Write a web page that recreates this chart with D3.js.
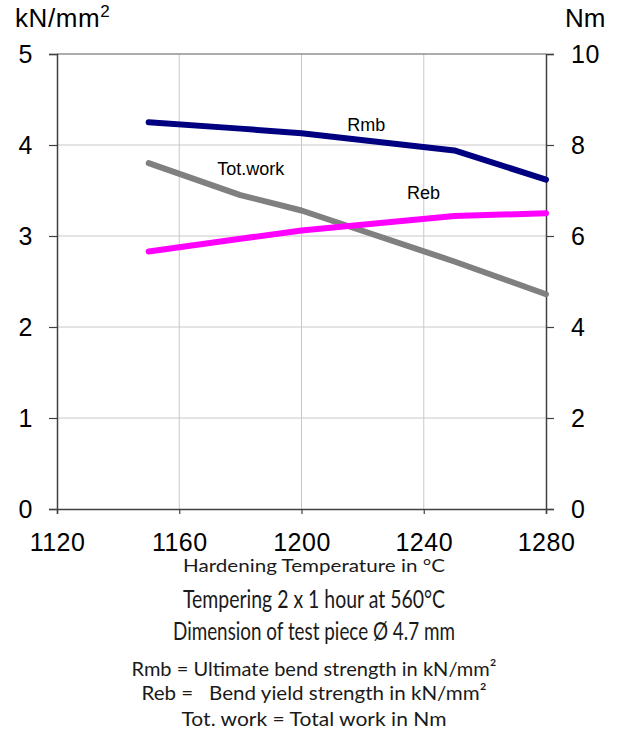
<!DOCTYPE html>
<html>
<head>
<meta charset="utf-8">
<script src="https://cdn.jsdelivr.net/npm/d3@7"></script>
<style>
  body { margin: 0; background: #fff; }
  svg { display: block; }
</style>
</head>
<body>
<div id="chart"></div>
<script>
// chart size
const width = 626
const height = 738

// data
const temps = [1150, 1180, 1200, 1250, 1280]
const rmb = [4.25, 4.18, 4.13, 3.94, 3.62]      // kN/mm2, left axis
const reb = [2.83, 2.97, 3.06, 3.22, 3.25]      // kN/mm2, left axis
const totWork = [7.60, 6.90, 6.56, 5.44, 4.72]  // Nm, right axis

const xTicks = [1120, 1160, 1200, 1240, 1280]
const yLeftTicks = [0, 1, 2, 3, 4, 5]
const yRightTicks = [0, 2, 4, 6, 8, 10]

const notes = [
    "Hardening Temperature in °C",
    "Tempering 2 x 1 hour at 560°C",
    "Dimension of test piece Ø 4.7 mm",
    "Rmb = Ultimate bend strength in kN/mm²",
    "Reb =   Bend yield strength in kN/mm²",
    "Tot. work = Total work in Nm"
]

const svg = d3.select("#chart")
    .append("svg")
    .attr("width", width)
    .attr("height", height)

const plotLeft = 57, plotRight = 546, plotTop = 54, plotBottom = 509

const x = d3.scaleLinear().domain([1120, 1280]).range([plotLeft, plotRight])
const yL = d3.scaleLinear().domain([0, 5]).range([plotBottom, plotTop])
const yR = d3.scaleLinear().domain([0, 10]).range([plotBottom, plotTop])

// gridlines
svg.append("g")
    .selectAll("line")
    .data(xTicks.slice(1, -1))
    .join("line")
    .attr("x1", d => x(d)).attr("x2", d => x(d))
    .attr("y1", plotTop).attr("y2", plotBottom)
    .attr("stroke", "#c8c8c8").attr("stroke-width", 1)

svg.append("g")
    .selectAll("line")
    .data(yLeftTicks.slice(1))
    .join("line")
    .attr("x1", plotLeft).attr("x2", plotRight)
    .attr("y1", d => yL(d)).attr("y2", d => yL(d))
    .attr("stroke", d => d == 5 ? "#909090" : "#c8c8c8").attr("stroke-width", d => d == 5 ? 1.5 : 1)

// axes
const axisFont = "Liberation Sans, Arial, sans-serif"

function styleAxis(g) {
    g.select(".domain").attr("stroke", "#404040").attr("stroke-width", 1.5)
    g.selectAll(".tick line").attr("stroke", "#404040").attr("stroke-width", 1.2)
    g.selectAll("text")
        .attr("font-family", axisFont)
        .attr("font-size", 25)
        .attr("letter-spacing", 0.5)
        .attr("fill", "#000")
}

svg.append("g")
    .attr("transform", `translate(0,${plotBottom})`)
    .call(d3.axisBottom(x).tickValues(xTicks).tickFormat(d3.format("d")).tickSize(5).tickPadding(19))
    .call(styleAxis)

svg.append("g")
    .attr("transform", `translate(${plotLeft},0)`)
    .call(d3.axisLeft(yL).tickValues(yLeftTicks).tickFormat(d3.format("d")).tickSize(8).tickPadding(16))
    .call(styleAxis)

svg.append("g")
    .attr("transform", `translate(${plotRight},0)`)
    .call(d3.axisRight(yR).tickValues(yRightTicks).tickFormat(d3.format("d")).tickSize(8).tickPadding(17))
    .call(styleAxis)

// unit labels
const unitL = svg.append("text")
    .attr("x", 15).attr("y", 27)
    .attr("font-family", axisFont).attr("font-size", 26)
    .attr("letter-spacing", 0.6)
unitL.append("tspan").text("kN/mm")
unitL.append("tspan").text("2").attr("font-size", 17).attr("dy", -10)

svg.append("text")
    .attr("x", 565).attr("y", 27)
    .attr("font-family", axisFont).attr("font-size", 26)
    .text("Nm")

// series lines
const series = [
    { name: "Tot.work", values: totWork, y: yR, color: "#808080" },
    { name: "Reb", values: reb, y: yL, color: "#ff00ff" },
    { name: "Rmb", values: rmb, y: yL, color: "#000080" }
]

series.forEach(function (s) {
    const line = d3.line()
        .x((d, i) => x(temps[i]))
        .y(d => s.y(d))
    svg.append("path")
        .datum(s.values)
        .attr("d", line)
        .attr("fill", "none")
        .attr("stroke", s.color)
        .attr("stroke-width", 6)
        .attr("stroke-linecap", "round")
        .attr("stroke-linejoin", "round")
})

// in-plot labels
const labels = [
    { text: "Rmb", x: 1215, y: 4.15 },
    { text: "Tot.work", x: 1172.4, y: 3.67 },
    { text: "Reb", x: 1234.5, y: 3.41 }
]
svg.append("g")
    .selectAll("text")
    .data(labels)
    .join("text")
    .attr("x", d => x(d.x))
    .attr("y", d => yL(d.y))
    .attr("font-family", axisFont)
    .attr("font-size", 18)
    .text(d => d.text)

// notes under the chart (condensed, light face in the original)
const noteY = [572, 608, 640, 676, 700, 726]
const noteSize = [18, 25, 25, 20, 20, 20]
const noteLen = [262, 262, 282, 365, 345, 265]
svg.append("g")
    .selectAll("text")
    .data(notes)
    .join("text")
    .attr("x", (d, i) => 314 - noteLen[i] / 2)
    .attr("y", (d, i) => noteY[i])
    .attr("font-family", "Lato, sans-serif")
    .attr("font-size", (d, i) => noteSize[i])
    .attr("fill", "#1a1a1a")
    .attr("textLength", (d, i) => noteLen[i])
    .attr("lengthAdjust", "spacingAndGlyphs")
    .style("white-space", "pre")
    .text(d => d)
</script>
</body>
</html>
